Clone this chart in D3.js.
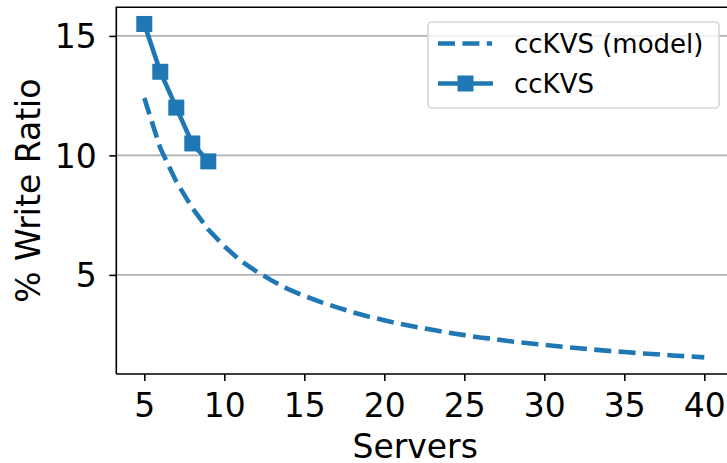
<!DOCTYPE html>
<html>
<head>
<meta charset="utf-8">
<script src="https://cdn.jsdelivr.net/npm/d3@7"></script>
<style>
  body { margin: 0; background: #fff; }
  svg { display: block; font-family: "DejaVu Sans", sans-serif; }
  .grid line { stroke: #b0b0b0; stroke-width: 1.6; }
  .axis path, .axis line { stroke: #000; stroke-width: 1.6; }
  .axis text { font-size: 33px; fill: #000; font-family: "DejaVu Sans", sans-serif; }
</style>
</head>
<body>
<div id="wrapper"></div>
<script>
// data
const servers = [5, 6, 7, 8, 9, 10, 11, 12, 13, 14, 15, 16, 17, 18, 19, 20, 21, 22, 23, 24,
  25, 26, 27, 28, 29, 30, 31, 32, 33, 34, 35, 36, 37, 38, 39, 40];
const modelRatio = [12.4, 10.3, 8.9, 7.8, 6.9, 6.2, 5.6, 5.15, 4.75, 4.4, 4.12, 3.87, 3.65, 3.44,
  3.26, 3.1, 2.95, 2.82, 2.7, 2.58, 2.48, 2.38, 2.3, 2.21, 2.14, 2.07, 2.0, 1.94, 1.88, 1.82,
  1.77, 1.72, 1.68, 1.63, 1.59, 1.55];
const measuredServers = [5, 6, 7, 8, 9];
const measuredRatio = [15.5, 13.5, 12.0, 10.5, 9.75];
const xTicks = [5, 10, 15, 20, 25, 30, 35, 40];
const yTicks = [5, 10, 15];
const seriesNames = ["ccKVS (model)", "ccKVS"];

const color = "#1f77b4";
const width = 727, height = 463;
const margin = { top: 7.3, left: 116.3, bottom: 374, right: 732.3 };

const svg = d3.select("#wrapper").append("svg")
  .attr("width", width)
  .attr("height", height);

// scales (matplotlib-style 5% padding)
const x = d3.scaleLinear().domain([3.25, 41.75]).range([margin.left, margin.right]);
const y = d3.scaleLinear().domain([0.8525, 16.1975]).range([margin.bottom, margin.top]);

// grid
svg.append("g").attr("class", "grid")
  .selectAll("line").data(yTicks).join("line")
  .attr("x1", margin.left).attr("x2", margin.right)
  .attr("y1", d => y(d)).attr("y2", d => y(d));

// model curve (dashed)
const line = d3.line().x(d => x(d[0])).y(d => y(d[1]));
svg.append("path")
  .datum(servers.map((s, i) => [s, modelRatio[i]]))
  .attr("d", line)
  .attr("fill", "none")
  .attr("stroke", color)
  .attr("stroke-width", 4.6)
  .attr("stroke-dasharray", "17,7.4");

// measured
const measured = measuredServers.map((s, i) => [s, measuredRatio[i]]);
svg.append("path")
  .datum(measured)
  .attr("d", line)
  .attr("fill", "none")
  .attr("stroke", color)
  .attr("stroke-width", 4.6)
  .attr("stroke-linejoin", "round");

const sq = 16;
svg.selectAll(".marker").data(measured).join("rect")
  .attr("class", "marker")
  .attr("x", d => x(d[0]) - sq / 2)
  .attr("y", d => y(d[1]) - sq / 2)
  .attr("width", sq).attr("height", sq)
  .attr("fill", color);

// axes
const xAxis = svg.append("g").attr("class", "axis")
  .attr("transform", `translate(0,${margin.bottom})`)
  .call(d3.axisBottom(x).tickValues(xTicks).tickSize(7).tickSizeOuter(0));
xAxis.select(".domain").remove();
xAxis.selectAll("text").attr("y", 42.7).attr("dy", 0);

const yAxis = svg.append("g").attr("class", "axis")
  .attr("transform", `translate(${margin.left},0)`)
  .call(d3.axisLeft(y).tickValues(yTicks).tickSize(7).tickSizeOuter(0));
yAxis.select(".domain").remove();
yAxis.selectAll("text").attr("x", -19.5).attr("dy", "0.36em");

// spines
svg.append("path")
  .attr("d", `M${margin.left},${margin.bottom}H${margin.right}M${margin.left},${margin.bottom}V${margin.top}H${margin.right}V${margin.bottom}`)
  .attr("fill", "none")
  .attr("stroke", "#000")
  .attr("stroke-width", 1.6);

// axis labels
svg.append("text")
  .attr("x", (margin.left + 704) / 2 + 5).attr("y", 458)
  .attr("text-anchor", "middle")
  .style("font-size", "33px")
  .text("Servers");

svg.append("text")
  .attr("transform", `translate(40,${(margin.top + margin.bottom) / 2}) rotate(-90)`)
  .attr("text-anchor", "middle")
  .style("font-size", "33px")
  .text("% Write Ratio");

// legend
const legend = svg.append("g");
legend.append("rect")
  .attr("x", 428).attr("y", 22)
  .attr("width", 291).attr("height", 86)
  .attr("rx", 4)
  .attr("fill", "rgba(255,255,255,0.8)")
  .attr("stroke", "#d6d6d6")
  .attr("stroke-width", 1.6);

const rows = [43.5, 83.5];
legend.append("line")
  .attr("x1", 438).attr("x2", 492).attr("y1", rows[0]).attr("y2", rows[0])
  .attr("stroke", color).attr("stroke-width", 4.6).attr("stroke-dasharray", "17,7.4");
legend.append("line")
  .attr("x1", 438).attr("x2", 493).attr("y1", rows[1]).attr("y2", rows[1])
  .attr("stroke", color).attr("stroke-width", 4.6);
legend.append("rect")
  .attr("x", 465.5 - sq / 2).attr("y", rows[1] - sq / 2)
  .attr("width", sq).attr("height", sq).attr("fill", color);

legend.selectAll(".legend-text").data(seriesNames).join("text")
  .attr("class", "legend-text")
  .attr("x", 514)
  .attr("y", (d, i) => rows[i] + 9.5)
  .style("font-size", "26px")
  .text(d => d);
</script>
</body>
</html>
